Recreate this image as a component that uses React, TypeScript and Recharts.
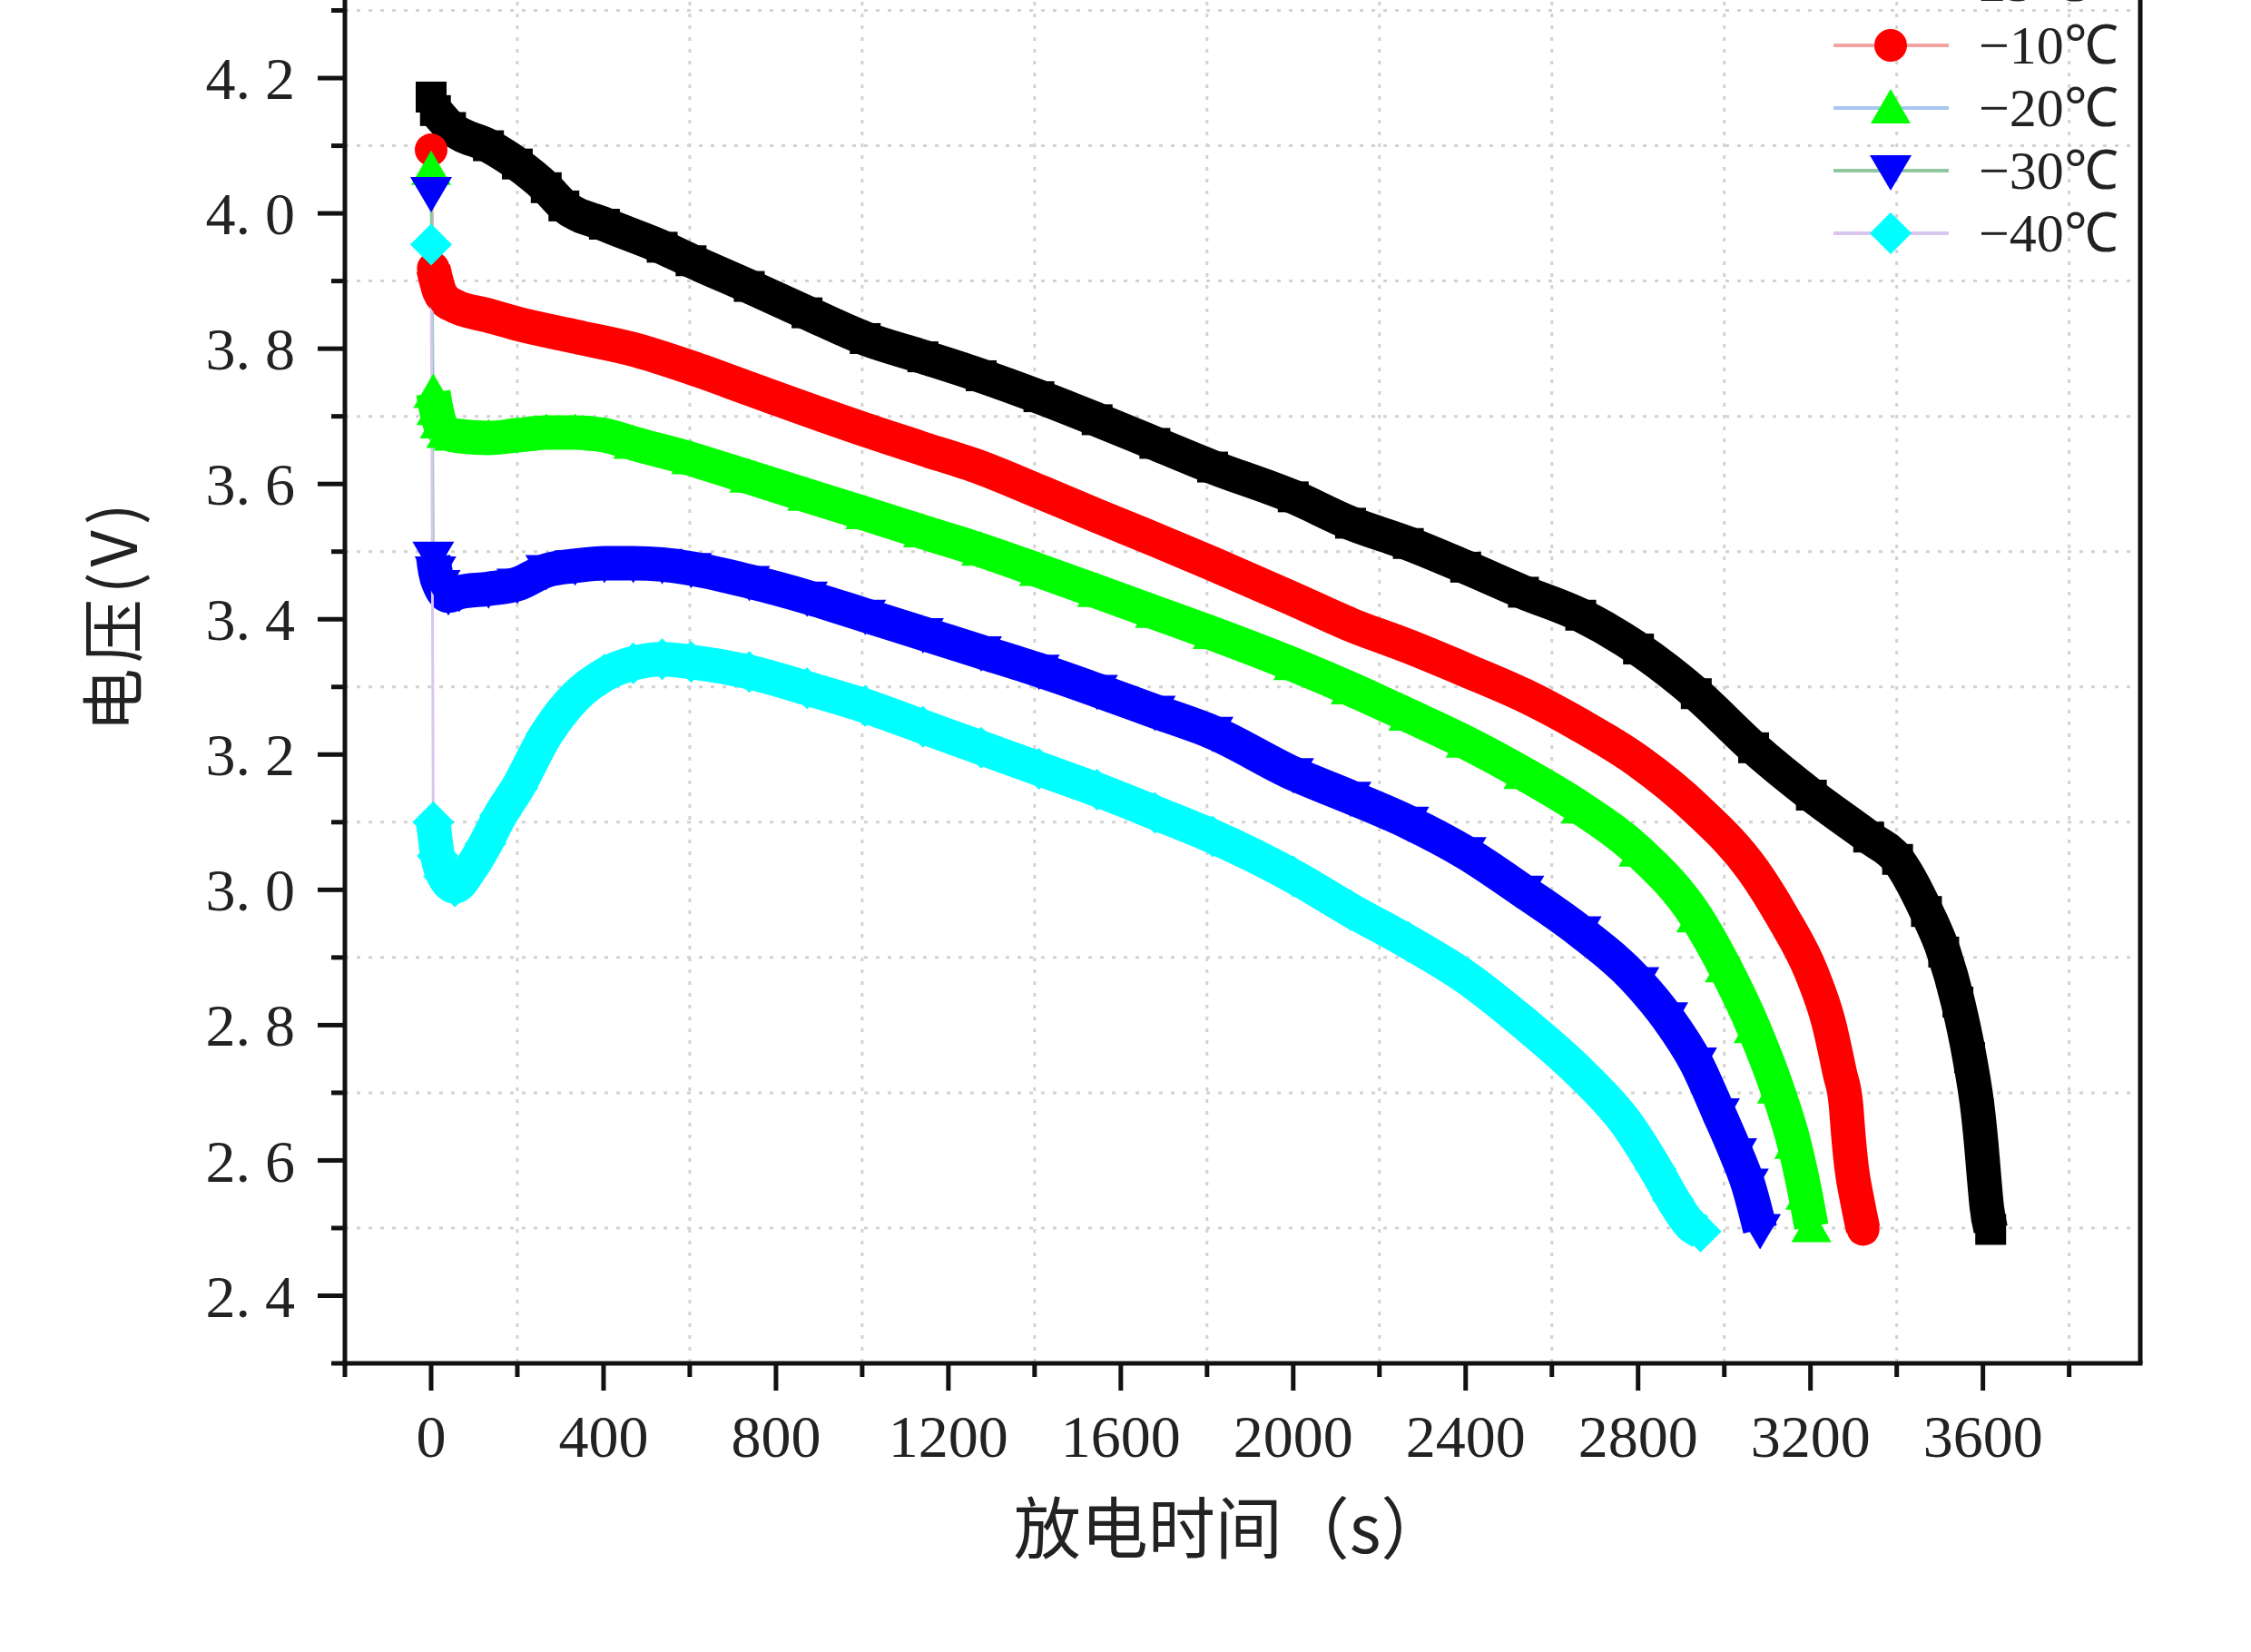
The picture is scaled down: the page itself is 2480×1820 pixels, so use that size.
import { CartesianGrid, Legend, Line, LineChart, ReferenceLine, XAxis, YAxis } from "recharts";

// discharge curves (t in s, v in V)
const time25 = [0, 10, 45, 133, 200, 267, 308, 402, 536, 603, 738, 872, 1007, 1141, 1276, 1410, 1545, 1679, 1813, 2000, 2133, 2267, 2400, 2534, 2667, 2801, 2935, 3068, 3202, 3335, 3402, 3469, 3509, 3542, 3569, 3589, 3596, 3602, 3609, 3618];
const volt25 = [4.172, 4.152, 4.127, 4.1, 4.073, 4.038, 4.011, 3.984, 3.95, 3.93, 3.892, 3.853, 3.815, 3.788, 3.76, 3.729, 3.695, 3.66, 3.625, 3.581, 3.542, 3.512, 3.477, 3.44, 3.406, 3.356, 3.29, 3.21, 3.14, 3.078, 3.045, 2.968, 2.908, 2.834, 2.752, 2.669, 2.625, 2.58, 2.531, 2.498];

const timeM10 = [0, 5, 19, 32, 52, 133, 200, 334, 469, 603, 738, 872, 1007, 1141, 1276, 1410, 1545, 1679, 1813, 2000, 2133, 2267, 2400, 2534, 2667, 2801, 2935, 3068, 3135, 3202, 3242, 3268, 3282, 3288, 3295, 3309, 3322];
const voltM10 = [4.094, 3.919, 3.885, 3.872, 3.864, 3.849, 3.837, 3.818, 3.799, 3.772, 3.741, 3.71, 3.68, 3.652, 3.624, 3.589, 3.553, 3.518, 3.482, 3.43, 3.392, 3.36, 3.325, 3.288, 3.243, 3.19, 3.12, 3.028, 2.96, 2.878, 2.804, 2.729, 2.684, 2.636, 2.591, 2.539, 2.498];

const timeM20 = [0, 5, 12, 20, 35, 52, 133, 200, 267, 334, 402, 469, 603, 738, 872, 1007, 1141, 1276, 1410, 1545, 1679, 1813, 2000, 2133, 2267, 2400, 2534, 2667, 2801, 2935, 3001, 3068, 3122, 3162, 3188, 3202];
const voltM20 = [4.065, 3.735, 3.71, 3.69, 3.676, 3.672, 3.668, 3.672, 3.676, 3.676, 3.672, 3.66, 3.637, 3.61, 3.583, 3.556, 3.529, 3.502, 3.472, 3.441, 3.41, 3.379, 3.333, 3.297, 3.258, 3.218, 3.172, 3.121, 3.057, 2.96, 2.886, 2.796, 2.707, 2.625, 2.55, 2.502];

const timeM30 = [0, 5, 10, 20, 40, 65, 133, 200, 267, 334, 402, 469, 536, 603, 738, 872, 1007, 1141, 1276, 1410, 1545, 1679, 1813, 2000, 2133, 2267, 2400, 2534, 2667, 2801, 2868, 2935, 2988, 3028, 3055, 3083];
const voltM30 = [4.031, 3.492, 3.47, 3.45, 3.435, 3.44, 3.445, 3.452, 3.472, 3.479, 3.483, 3.483, 3.481, 3.475, 3.456, 3.433, 3.406, 3.379, 3.352, 3.325, 3.295, 3.264, 3.233, 3.172, 3.137, 3.1, 3.055, 2.998, 2.938, 2.863, 2.811, 2.744, 2.669, 2.61, 2.565, 2.498];

const timeM40 = [0, 5, 15, 30, 55, 90, 126, 160, 200, 267, 334, 402, 469, 536, 603, 738, 872, 1007, 1141, 1276, 1410, 1545, 1679, 1813, 2000, 2133, 2267, 2400, 2534, 2667, 2774, 2841, 2881, 2921, 2945];
const voltM40 = [3.954, 3.1, 3.05, 3.02, 3.005, 3.03, 3.068, 3.11, 3.15, 3.23, 3.285, 3.318, 3.335, 3.341, 3.337, 3.322, 3.298, 3.272, 3.241, 3.21, 3.179, 3.148, 3.114, 3.079, 3.02, 2.97, 2.923, 2.871, 2.804, 2.729, 2.654, 2.587, 2.542, 2.505, 2.495];

const seriesNames = ["25℃", "−10℃", "−20℃", "−30℃", "−40℃"];

const xTicks = [-200, 0, 200, 400, 600, 800, 1000, 1200, 1400, 1600, 1800, 2000, 2200, 2400, 2600, 2800, 3000, 3200, 3400, 3600, 3800];
const yTicks = [2.3, 2.4, 2.5, 2.6, 2.7, 2.8, 2.9, 3.0, 3.1, 3.2, 3.3, 3.4, 3.5, 3.6, 3.7, 3.8, 3.9, 4.0, 4.1, 4.2, 4.3];
const xGrid = [200, 600, 1000, 1400, 1800, 2200, 2600, 3000, 3400, 3800];
const yGrid = [2.5, 2.7, 2.9, 3.1, 3.3, 3.5, 3.7, 3.9, 4.1, 4.3];

const X_DOMAIN = [-200, 3965];
const Y_DOMAIN = [2.3, 4.4];

const serif = "'Liberation Serif', 'Times New Roman', serif";
const cjk = "'Noto Sans CJK SC', sans-serif";
const ink = "#111";

type Pt = { t: number; v: number };
const zip = (ts: number[], vs: number[]): Pt[] => ts.map((t, i) => ({ t, v: vs[i] }));

const series = [
  { name: seriesNames[0], color: "#000000", line: "#b5b5b5", shape: "square", data: zip(time25, volt25) },
  { name: seriesNames[1], color: "#ff0000", line: "#f4a3a3", shape: "circle", data: zip(timeM10, voltM10) },
  { name: seriesNames[2], color: "#00ff00", line: "#a9c6ef", shape: "triangle", data: zip(timeM20, voltM20) },
  { name: seriesNames[3], color: "#0000ff", line: "#8fc79f", shape: "triangleDown", data: zip(timeM30, voltM30) },
  { name: seriesNames[4], color: "#00ffff", line: "#d9c6ef", shape: "diamond", data: zip(timeM40, voltM40) },
];

function marker(shape: string, cx: number, cy: number, fill: string, key?: string) {
  switch (shape) {
    case "square":
      return <rect key={key} x={cx - 17} y={cy - 17} width={34} height={34} fill={fill} />;
    case "circle":
      return <circle key={key} cx={cx} cy={cy} r={18} fill={fill} />;
    case "triangle":
      return <path key={key} d={`M${cx},${cy - 21}L${cx + 22},${cy + 17}L${cx - 22},${cy + 17}Z`} fill={fill} />;
    case "triangleDown":
      return <path key={key} d={`M${cx},${cy + 22}L${cx + 23},${cy - 17}L${cx - 23},${cy - 17}Z`} fill={fill} />;
    default:
      return <path key={key} d={`M${cx},${cy - 23}L${cx + 23},${cy}L${cx},${cy + 23}L${cx - 23},${cy}Z`} fill={fill} />;
  }
}

function XTick(props: any) {
  const { x, y, payload } = props;
  const major = payload.value % 400 === 0;
  return (
    <g>
      <line x1={x} x2={x} y1={y} y2={y + (major ? 30 : 15)} stroke={ink} strokeWidth={5} />
      {major && (
        <text x={x} y={y + 103} textAnchor="middle" fontSize={66} fontFamily={serif} fill="#222">
          {payload.value}
        </text>
      )}
    </g>
  );
}

function YTick(props: any) {
  const { x, y, payload } = props;
  const major = Math.round(payload.value * 10) % 2 === 0;
  const [a, b] = payload.value.toFixed(1).split(".");
  return (
    <g>
      <line x1={x - (major ? 30 : 15)} x2={x} y1={y} y2={y} stroke={ink} strokeWidth={5} />
      {major && (
        <text x={x - 55} y={y} dy="0.35em" textAnchor="end" fontSize={66} fontFamily={serif} fill="#222">
          <tspan>{a}.</tspan>
          <tspan dx={16}>{b}</tspan>
        </text>
      )}
    </g>
  );
}

function LegendBox() {
  return (
    <svg width={420} height={360}>
      {series.map((s, i) => {
        const y = 35 + i * 69;
        return (
          <g key={s.name}>
            <line x1={20} x2={147} y1={y} y2={y} stroke={s.line} strokeWidth={4} />
            {marker(s.shape, 83, y, s.color)}
            <text x={180} y={y} dy="0.33em" fontSize={60} fontFamily={serif} fill="#222">
              {s.name}
            </text>
          </g>
        );
      })}
    </svg>
  );
}

export default function App() {
  return (
    <div style={{ position: "absolute", left: 0, top: -100, background: "#fff" }}>
      <LineChart width={2480} height={1920} margin={{ top: 37, right: 122, bottom: 98, left: 0 }}>
        <CartesianGrid
          horizontalValues={yGrid}
          verticalValues={xGrid}
          stroke="#d2d2d2"
          strokeWidth={3}
          strokeDasharray="4 9"
        />
        <XAxis
          type="number"
          dataKey="t"
          domain={X_DOMAIN}
          allowDataOverflow
          ticks={xTicks}
          interval={0}
          tick={<XTick />}
          tickLine={false}
          tickSize={0}
          tickMargin={0}
          height={220}
          axisLine={{ stroke: ink, strokeWidth: 5, strokeLinecap: "square" }}
          label={(p: any) => (
            <text
              x={p.viewBox.x + p.viewBox.width / 2 - 13}
              y={p.viewBox.y + 183}
              dy="0.35em"
              textAnchor="middle"
              fontSize={74}
              fontFamily={cjk}
              fill="#222"
            >
              放电时间（s）
            </text>
          )}
        />
        <YAxis
          type="number"
          domain={Y_DOMAIN}
          allowDataOverflow
          ticks={yTicks}
          interval={0}
          tick={<YTick />}
          tickLine={false}
          tickSize={0}
          tickMargin={0}
          width={380}
          axisLine={{ stroke: ink, strokeWidth: 5, strokeLinecap: "square" }}
          label={(p: any) => {
            const x = p.viewBox.x + 126;
            const y = p.viewBox.y + p.viewBox.height / 2 - 42;
            return (
              <text
                x={x}
                y={y}
                transform={`rotate(-90 ${x} ${y})`}
                dy="0.35em"
                textAnchor="middle"
                fontSize={70}
                letterSpacing={6}
                fontFamily={cjk}
                fill="#222"
              >
                电压(V)
              </text>
            );
          }}
        />
        <ReferenceLine x={X_DOMAIN[1]} stroke={ink} strokeWidth={5} />
        {series.flatMap((s) => [
          <Line
            key={`${s.name}-thin`}
            data={s.data}
            dataKey="v"
            type="linear"
            stroke={s.line}
            strokeWidth={3}
            dot={false}
            activeDot={false}
            legendType="none"
            isAnimationActive={false}
          />,
          <Line
            key={`${s.name}-band`}
            data={s.data.slice(1)}
            dataKey="v"
            type="monotone"
            stroke={s.color}
            strokeWidth={38}
            strokeLinejoin="round"
            dot={false}
            activeDot={false}
            legendType="none"
            isAnimationActive={false}
          />,
          <Line
            key={`${s.name}-marks`}
            data={s.data}
            dataKey="v"
            type="linear"
            stroke="none"
            dot={(p: any) => marker(s.shape, p.cx, p.cy, s.color, `${s.name}-${p.index}`)}
            activeDot={false}
            legendType="none"
            isAnimationActive={false}
          />,
        ])}
        <Legend
          layout="vertical"
          align="center"
          verticalAlign="middle"
          content={() => <LegendBox />}
          wrapperStyle={{ left: 2000, top: 46, width: 420, height: 360 }}
        />
      </LineChart>
    </div>
  );
}
